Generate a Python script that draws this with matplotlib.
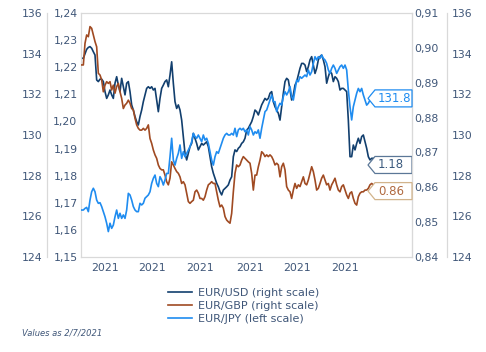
import matplotlib
matplotlib.use("Agg")
import matplotlib.pyplot as plt
import matplotlib.transforms as mtransforms
from matplotlib.path import Path
from matplotlib.ticker import FuncFormatter, MultipleLocator
import pandas as pd

# daily series, last value 2 July 2021
DATES = pd.date_range(end="2021-07-02", periods=176, freq="D")

EUR_USD = [
    1.2233, 1.2233, 1.2249, 1.2266, 1.2273, 1.2276, 1.2270, 1.2257, 1.2245, 1.2153,
    1.2147, 1.2156, 1.2156, 1.2147, 1.2110, 1.2085, 1.2098, 1.2116, 1.2098, 1.2085,
    1.2141, 1.2165, 1.2134, 1.2110, 1.2159, 1.2128, 1.2098, 1.2141, 1.2147, 1.2110,
    1.2061, 1.2042, 1.2018, 1.1999, 1.1987, 1.2018, 1.2042, 1.2073, 1.2098, 1.2122,
    1.2128, 1.2122, 1.2128, 1.2116, 1.2122, 1.2079, 1.2036, 1.2085, 1.2122, 1.2134,
    1.2147, 1.2153, 1.2128, 1.2171, 1.2220, 1.2141, 1.2073, 1.2048, 1.2061, 1.2042,
    1.2005, 1.1944, 1.1882, 1.1858, 1.1882, 1.1907, 1.1919, 1.1956, 1.1938, 1.1919,
    1.1895, 1.1907, 1.1919, 1.1913, 1.1919, 1.1925, 1.1907, 1.1870, 1.1833, 1.1809,
    1.1790, 1.1772, 1.1759, 1.1741, 1.1729, 1.1747, 1.1753, 1.1759, 1.1766, 1.1784,
    1.1796, 1.1870, 1.1895, 1.1889, 1.1901, 1.1907, 1.1919, 1.1925, 1.1938, 1.1968,
    1.1975, 1.1987, 1.1999, 1.2018, 1.2042, 1.2036, 1.2024, 1.2042, 1.2061, 1.2073,
    1.2085, 1.2079, 1.2085, 1.2104, 1.2110, 1.2073, 1.2054, 1.2042, 1.2030, 1.2005,
    1.2054, 1.2104, 1.2147, 1.2159, 1.2153, 1.2116, 1.2079, 1.2098, 1.2134, 1.2147,
    1.2171, 1.2196, 1.2214, 1.2214, 1.2208, 1.2184, 1.2202, 1.2227, 1.2239, 1.2208,
    1.2177, 1.2196, 1.2227, 1.2239, 1.2245, 1.2227, 1.2202, 1.2141, 1.2165, 1.2184,
    1.2177, 1.2147, 1.2165, 1.2159, 1.2147, 1.2116, 1.2122, 1.2122, 1.2116, 1.2110,
    1.2005, 1.1870, 1.1870, 1.1913, 1.1895, 1.1919, 1.1938, 1.1919, 1.1944, 1.1950,
    1.1925, 1.1901, 1.1870, 1.1858, 1.1864, 1.1864,
]

EUR_GBP = [
    0.8951, 0.8951, 0.9013, 0.9037, 0.9032, 0.9061, 0.9056, 0.9037, 0.9018, 0.9003,
    0.8927, 0.8922, 0.8908, 0.8874, 0.8893, 0.8903, 0.8898, 0.8903, 0.8879, 0.8893,
    0.8870, 0.8889, 0.8898, 0.8874, 0.8855, 0.8826, 0.8836, 0.8841, 0.8850, 0.8841,
    0.8826, 0.8822, 0.8798, 0.8779, 0.8769, 0.8764, 0.8764, 0.8769, 0.8764, 0.8769,
    0.8779, 0.8740, 0.8726, 0.8707, 0.8693, 0.8683, 0.8664, 0.8654, 0.8650, 0.8650,
    0.8635, 0.8616, 0.8607, 0.8626, 0.8673, 0.8664, 0.8654, 0.8645, 0.8640, 0.8630,
    0.8611, 0.8616, 0.8607, 0.8583, 0.8559, 0.8554, 0.8559, 0.8563, 0.8587, 0.8592,
    0.8583, 0.8568, 0.8568, 0.8563, 0.8573, 0.8592, 0.8607, 0.8611, 0.8616, 0.8611,
    0.8611, 0.8587, 0.8563, 0.8544, 0.8549, 0.8540, 0.8516, 0.8506, 0.8501, 0.8497,
    0.8525, 0.8587, 0.8640, 0.8664, 0.8659, 0.8664, 0.8678, 0.8688, 0.8683, 0.8678,
    0.8673, 0.8669, 0.8640, 0.8592, 0.8635, 0.8635, 0.8659, 0.8678, 0.8702, 0.8697,
    0.8688, 0.8693, 0.8688, 0.8693, 0.8688, 0.8678, 0.8664, 0.8669, 0.8664, 0.8630,
    0.8659, 0.8669, 0.8650, 0.8602, 0.8592, 0.8587, 0.8568, 0.8592, 0.8611, 0.8597,
    0.8607, 0.8602, 0.8616, 0.8630, 0.8611, 0.8607, 0.8621, 0.8640, 0.8659, 0.8645,
    0.8621, 0.8592, 0.8597, 0.8611, 0.8626, 0.8635, 0.8621, 0.8607, 0.8611, 0.8592,
    0.8607, 0.8616, 0.8626, 0.8607, 0.8592, 0.8587, 0.8602, 0.8607, 0.8592, 0.8578,
    0.8568, 0.8583, 0.8587, 0.8568, 0.8554, 0.8549, 0.8573, 0.8583, 0.8587, 0.8587,
    0.8592, 0.8592, 0.8597, 0.8607, 0.8611, 0.8607,
]

EUR_JPY = [
    126.31, 126.31, 126.39, 126.44, 126.23, 126.80, 127.21, 127.38, 127.21, 126.80,
    126.64, 126.67, 126.48, 126.23, 125.98, 125.66, 125.25, 125.66, 125.41, 125.57,
    125.98, 126.31, 125.90, 126.15, 125.90, 126.07, 125.90, 126.31, 127.13, 127.05,
    126.80, 126.48, 126.31, 126.23, 126.23, 126.64, 126.56, 126.64, 126.89, 126.97,
    127.05, 127.21, 127.62, 127.87, 128.03, 127.62, 127.46, 127.95, 127.79, 127.54,
    127.79, 128.11, 128.11, 128.93, 129.84, 128.77, 128.52, 128.85, 129.10, 129.51,
    128.85, 129.18, 128.93, 129.10, 129.26, 129.43, 129.67, 130.08, 129.92, 129.84,
    130.00, 129.84, 129.67, 130.00, 129.75, 129.84, 129.59, 129.18, 128.77, 128.52,
    128.93, 129.18, 129.10, 129.34, 129.59, 129.84, 130.00, 130.08, 130.00, 130.00,
    130.08, 130.00, 130.33, 129.92, 130.25, 130.33, 130.25, 130.33, 130.16, 130.25,
    130.00, 130.41, 130.25, 130.00, 130.16, 130.08, 130.25, 129.84, 130.33, 130.74,
    131.15, 131.23, 131.47, 131.72, 131.97, 131.64, 131.64, 131.15, 131.39, 131.56,
    131.47, 131.89, 132.13, 131.97, 132.13, 132.38, 131.89, 131.72, 132.21, 132.70,
    132.62, 132.87, 132.79, 132.87, 132.95, 132.87, 133.20, 132.95, 133.11, 133.52,
    133.85, 133.69, 133.85, 133.77, 133.93, 133.77, 133.69, 133.52, 133.20, 133.03,
    133.28, 133.44, 133.28, 133.03, 133.20, 133.36, 133.44, 133.28, 133.44, 133.20,
    132.21, 131.39, 130.74, 131.39, 131.72, 132.05, 132.29, 132.13, 132.29, 131.97,
    131.72, 131.47, 131.56, 131.72, 131.97, 131.80,
]

TICK_DATES = pd.to_datetime(["2021-01-22", "2021-02-19", "2021-03-20",
                             "2021-04-19", "2021-05-17", "2021-06-15"])
TICK_LABELS = ["2021"] * 6

SERIES_LABELS = ["EUR/USD (right scale)", "EUR/GBP (right scale)", "EUR/JPY (left scale)"]
END_LABELS = ["1.18", "0.86", "131.8"]

NAVY = "#123f6e"
BROWN = "#a04a22"
LIGHT = "#1f8cf0"
TXT = "#3f5678"
GRID = "#d9d9d9"


def comma2(v, pos):
    return f"{v:.2f}".replace(".", ",")


def tag_box(x0, y0, width, height, mutation_size):
    # left-pointing tag, fixed width (display pixels)
    yc = y0 + height / 2
    h = 8.5
    verts = [(x0 - 10, yc), (x0 - 3, yc + h), (x0 + 34, yc + h),
             (x0 + 34, yc - h), (x0 - 3, yc - h), (x0 - 10, yc)]
    return Path(verts, closed=True)


fig = plt.figure(figsize=(4.86, 3.52), dpi=100)
ax = fig.add_axes([81 / 486, 1 - 257 / 352, 331 / 486, 244 / 352])
ax_gbp = ax.twinx()
ax_jpy = ax.twinx()

l_usd, = ax.plot(DATES, EUR_USD, color=NAVY, lw=1.2)
l_gbp, = ax_gbp.plot(DATES, EUR_GBP, color=BROWN, lw=1.2)
l_jpy, = ax_jpy.plot(DATES, EUR_JPY, color=LIGHT, lw=1.2)

ax.set_xlim(DATES[0] - pd.Timedelta(days=0.4), DATES[-1] + pd.Timedelta(days=23.2))
ax.set_xticks(TICK_DATES)
ax.set_xticklabels(TICK_LABELS)

ax.set_ylim(1.15, 1.24)
ax.yaxis.set_major_locator(MultipleLocator(0.01))
ax.yaxis.set_major_formatter(FuncFormatter(comma2))
ax_gbp.set_ylim(0.84, 0.91)
ax_gbp.yaxis.set_major_locator(MultipleLocator(0.01))
ax_gbp.yaxis.set_major_formatter(FuncFormatter(comma2))
ax_jpy.set_ylim(124, 136)
ax_jpy.yaxis.set_major_locator(MultipleLocator(2))
ax_jpy.yaxis.set_major_formatter(FuncFormatter(lambda v, p: f"{v:.0f}"))

for s in ax.spines.values():
    s.set_color(GRID)
    s.set_linewidth(0.9)
for s in ["left", "top", "bottom"]:
    ax_gbp.spines[s].set_visible(False)
ax_gbp.spines["right"].set_color(GRID)
for s in ["top", "bottom"]:
    ax_jpy.spines[s].set_visible(False)
ax_jpy.spines["left"].set_position(("axes", (47 - 81) / 331))
ax_jpy.spines["right"].set_position(("axes", (447 - 81) / 331))
for s in ["left", "right"]:
    ax_jpy.spines[s].set_color(GRID)
    ax_jpy.spines[s].set_linewidth(0.9)

ax.tick_params(axis="x", length=0, pad=4, labelsize=7.8, labelcolor=TXT)
ax.tick_params(axis="y", length=0, pad=2.5, labelsize=7.8, labelcolor=TXT)
ax_gbp.tick_params(axis="y", length=0, pad=1.5, labelsize=7.8, labelcolor=TXT)
ax_jpy.tick_params(axis="y", length=0, pad=3.5, labelsize=7.8, labelcolor=TXT,
                   labelleft=True, labelright=True)

# end-of-series tags
tag_x = (378 - 81) / 331
tag_specs = [
    (ax, EUR_USD[-1], END_LABELS[0], "#3b5a7e", "#5b7797", -4.8),
    (ax_gbp, EUR_GBP[-1], END_LABELS[1], "#b0693f", "#d2b48c", -4.5),
    (ax_jpy, EUR_JPY[-1], END_LABELS[2], LIGHT, LIGHT, 0),
]
for a, val, txt, tcol, ecol, dy in tag_specs:
    trans = mtransforms.blended_transform_factory(a.transAxes, a.transData)
    a.annotate(txt, xy=(tag_x, val), xycoords=trans, xytext=(0, dy),
               textcoords="offset points", ha="left", va="center",
               fontsize=8.5, color=tcol, annotation_clip=False,
               bbox=dict(boxstyle=tag_box, fc="white", ec=ecol, lw=0.9, pad=0))

fig.legend([l_usd, l_gbp, l_jpy], SERIES_LABELS, loc="center",
           bbox_to_anchor=(0.502, 1 - 306 / 352), frameon=False, fontsize=8,
           labelcolor=TXT, handlelength=2.1, handletextpad=0.6, labelspacing=0.25)

fig.text(22 / 486, 1 - 333 / 352, "Values as 2/7/2021", fontsize=6,
         style="italic", color=TXT, va="center")

fig.savefig("out.png", dpi=100)
